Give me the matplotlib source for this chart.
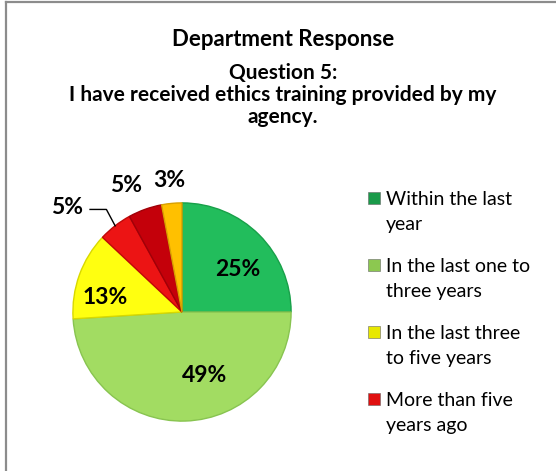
import numpy as np
import matplotlib.pyplot as plt
from matplotlib.patches import Rectangle
from matplotlib.lines import Line2D

plt.rcParams['font.family'] = ['Lato', 'DejaVu Sans']

# survey answers, clockwise from 12 o'clock
shares = [25, 49, 13, 5, 5, 3]
slice_colors = ['#22bd5c', '#a2dc62', '#ffff10', '#ec1414', '#c4000a', '#ffc000']
edge_colors = ['#18a049', '#88c450', '#d8d800', '#c00808', '#a00008', '#d8a000']
legend_labels = ['Within the last\nyear', 'In the last one to\nthree years',
                 'In the last three\nto five years', 'More than five\nyears ago']
legend_colors = ['#1a9a4a', '#8cc850', '#e8e800', '#e01010']

title = 'Department Response'
subtitle = 'Question 5:\nI have received ethics training provided by my\nagency.'

W, H = 556, 471
fig = plt.figure(figsize=(W / 100, H / 100), dpi=100)
fig.patch.set_facecolor('white')

# grey frame, only top and left edges show
fig.add_artist(Line2D([6 / W, 6 / W], [0, 1 - 2 / H], color='#8c8c8c', lw=1.6))
fig.add_artist(Line2D([6 / W, 1], [1 - 2 / H, 1 - 2 / H], color='#8c8c8c', lw=1.6))

fig.text(283 / W, 1 - 40 / H, title, ha='center', va='center',
         fontsize=16, fontweight='bold')
fig.text(283 / W, 1 - 95 / H, subtitle, ha='center', va='center',
         fontsize=15, fontweight='bold', linespacing=1.12)

# pie axes: centre (182, 312) px, radius about 109 px
cx, cy, half = 182, 312, 120
ax = fig.add_axes([(cx - half) / W, (H - cy - half) / H, 2 * half / W, 2 * half / H])
wedges, _ = ax.pie(shares, colors=slice_colors, startangle=90, counterclock=False,
                   radius=1.0, wedgeprops=dict(linewidth=1.0))
for w, ec in zip(wedges, edge_colors):
    w.set_edgecolor(ec)
ax.set_xlim(-1.1, 1.1)
ax.set_ylim(-1.1, 1.1)
ax.set_aspect('equal')
ax.axis('off')

# label radius / angle tweak per slice
label_r = [0.64, 0.62, 0.72, 1.42, 1.27, 1.21]
label_da = [-8, 18, 9, 10, 4, 0]
for w, s, r, da in zip(wedges, shares, label_r, label_da):
    ang = np.deg2rad((w.theta1 + w.theta2) / 2 + da)
    ax.text(r * np.cos(ang), r * np.sin(ang), f'{s}%', ha='center', va='center',
            fontsize=16.5, fontweight='bold')

# leader line for the outer 5% label: slice edge -> elbow -> under the text
w = wedges[3]
ang = np.deg2rad((w.theta1 + w.theta2) / 2)
ex, ey = np.cos(ang), np.sin(ang)
ax.plot([ex, ex - 0.08, ex - 0.23], [ey, ey + 0.15, ey + 0.15],
        color='black', lw=1.0, clip_on=False)

# legend drawn by hand so the marker sits on the first text line
y0, step = 198, 67
for i, (lab, col) in enumerate(zip(legend_labels, legend_colors)):
    y = y0 + i * step
    fig.add_artist(Rectangle((368 / W, 1 - (y + 6) / H), 12 / W, 12 / H,
                             facecolor=col, edgecolor='#666666', linewidth=0.4))
    fig.text(386 / W, 1 - (y - 7) / H, lab, ha='left', va='top',
             fontsize=14, linespacing=1.55)

fig.savefig('out.png', dpi=100)
